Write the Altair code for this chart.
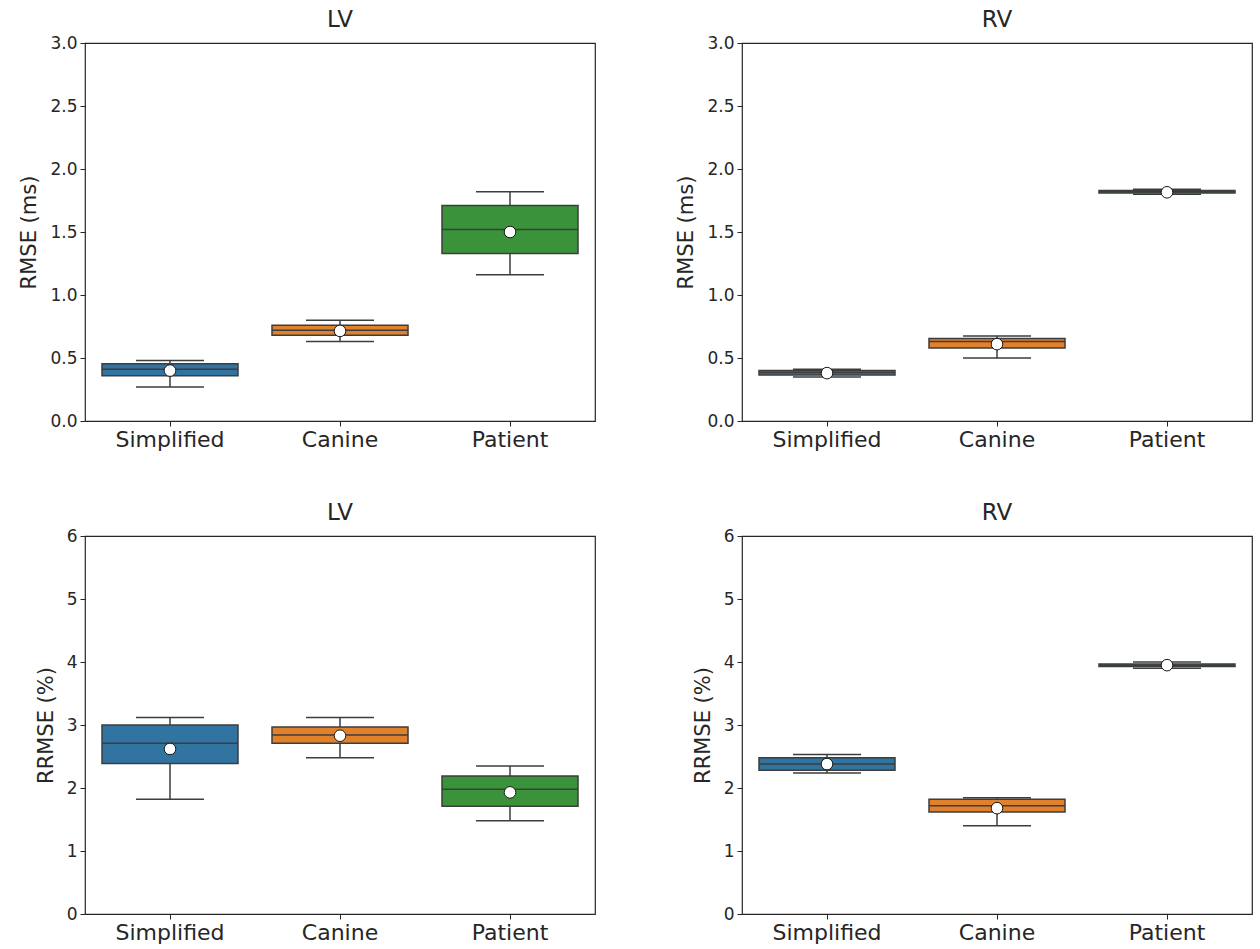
import altair as alt
import pandas as pd

categories = ["Simplified", "Canine", "Patient"]
box_colors = ["#3274a1", "#e1812c", "#3a923a"]
LINE = "#3d3d3d"
FONT = "DejaVu Sans"

# Box-plot summaries per group: whisker low, Q1, median, Q3, whisker high, mean
rmse_lv_low = [0.27, 0.63, 1.16]
rmse_lv_q1 = [0.36, 0.68, 1.33]
rmse_lv_med = [0.41, 0.72, 1.52]
rmse_lv_q3 = [0.455, 0.76, 1.71]
rmse_lv_high = [0.48, 0.80, 1.82]
rmse_lv_mean = [0.40, 0.715, 1.50]

rmse_rv_low = [0.35, 0.50, 1.80]
rmse_rv_q1 = [0.365, 0.58, 1.81]
rmse_rv_med = [0.385, 0.63, 1.82]
rmse_rv_q3 = [0.40, 0.655, 1.83]
rmse_rv_high = [0.41, 0.675, 1.84]
rmse_rv_mean = [0.38, 0.61, 1.815]

rrmse_lv_low = [1.82, 2.48, 1.48]
rrmse_lv_q1 = [2.39, 2.71, 1.71]
rrmse_lv_med = [2.71, 2.84, 1.98]
rrmse_lv_q3 = [3.00, 2.97, 2.19]
rrmse_lv_high = [3.12, 3.12, 2.35]
rrmse_lv_mean = [2.62, 2.83, 1.93]

rrmse_rv_low = [2.24, 1.40, 3.90]
rrmse_rv_q1 = [2.28, 1.62, 3.93]
rrmse_rv_med = [2.38, 1.72, 3.95]
rrmse_rv_q3 = [2.48, 1.82, 3.97]
rrmse_rv_high = [2.53, 1.845, 4.00]
rrmse_rv_mean = [2.38, 1.68, 3.95]

rmse_ticks = [0.0, 0.5, 1.0, 1.5, 2.0, 2.5, 3.0]
rrmse_ticks = [0, 1, 2, 3, 4, 5, 6]

PLOT_W = 510
PLOT_H = 378
BOX_W = 136


def panel(title, low, q1, med, q3, high, mean, y_title, ticks, fmt):
    df = pd.DataFrame({
        "group": categories,
        "low": low, "q1": q1, "med": med, "q3": q3, "high": high, "mean": mean,
    })
    y_scale = alt.Scale(domain=[ticks[0], ticks[-1]], nice=False, zero=False)
    y_axis = alt.Axis(
        title=y_title, values=ticks, format=fmt, grid=False, domain=False,
        tickSize=5, tickColor="#262626", tickWidth=1,
        labelFont=FONT, labelFontSize=17, labelColor="#262626", labelPadding=3,
        titleFont=FONT, titleFontSize=21, titleFontWeight="normal",
        titleColor="#262626", titlePadding=10,
    )

    def y(field):
        return alt.Y(f"{field}:Q", scale=y_scale, axis=y_axis, title=y_title)

    base = alt.Chart(df).encode(
        x=alt.X(
            "group:N", sort=categories,
            scale=alt.Scale(type="band", paddingInner=0, paddingOuter=0),
            axis=alt.Axis(
                title=None, labelAngle=0, domain=False, grid=False,
                tickSize=5, tickColor="#262626", tickWidth=1,
                labelFont=FONT, labelFontSize=22, labelColor="#262626",
                labelPadding=3,
            ),
        )
    )
    whisker = base.mark_rule(color=LINE, strokeWidth=1.5).encode(
        y=y("low"), y2="high:Q"
    )
    box = base.mark_bar(size=BOX_W, stroke=LINE, strokeWidth=1.5, opacity=1).encode(
        y=y("q1"), y2="q3:Q",
        color=alt.Color("group:N", scale=alt.Scale(domain=categories, range=box_colors), legend=None),
    )
    cap_low = base.mark_tick(size=BOX_W / 2, thickness=1.5, color=LINE, opacity=1).encode(y=y("low"))
    cap_high = base.mark_tick(size=BOX_W / 2, thickness=1.5, color=LINE, opacity=1).encode(y=y("high"))
    median = base.mark_tick(size=BOX_W, thickness=1.5, color=LINE, opacity=1).encode(y=y("med"))
    mean_pt = base.mark_point(
        shape="circle", filled=True, fill="white", stroke="#1a1a1a",
        strokeWidth=1, size=135, opacity=1,
    ).encode(y=y("mean"))

    return alt.layer(whisker, box, cap_low, cap_high, median, mean_pt).properties(
        width=PLOT_W, height=PLOT_H,
        title=alt.Title(
            title, font=FONT, fontSize=23, fontWeight="normal",
            color="#262626", offset=2, anchor="middle",
        ),
    )


top_left = panel("LV", rmse_lv_low, rmse_lv_q1, rmse_lv_med, rmse_lv_q3,
                 rmse_lv_high, rmse_lv_mean, "RMSE (ms)", rmse_ticks, ".1f")
top_right = panel("RV", rmse_rv_low, rmse_rv_q1, rmse_rv_med, rmse_rv_q3,
                  rmse_rv_high, rmse_rv_mean, "RMSE (ms)", rmse_ticks, ".1f")
bottom_left = panel("LV", rrmse_lv_low, rrmse_lv_q1, rrmse_lv_med, rrmse_lv_q3,
                    rrmse_lv_high, rrmse_lv_mean, "RRMSE (%)", rrmse_ticks, "d")
bottom_right = panel("RV", rrmse_rv_low, rrmse_rv_q1, rrmse_rv_med, rrmse_rv_q3,
                     rrmse_rv_high, rrmse_rv_mean, "RRMSE (%)", rrmse_ticks, "d")

chart = alt.concat(
    top_left, top_right, bottom_left, bottom_right,
    columns=2, bounds="flush", spacing={"row": 115, "column": 147},
).properties(
    padding={"left": 18, "top": 8, "right": 2, "bottom": 2},
    background="white",
).configure_view(stroke="#262626", strokeWidth=1.2)

chart.save("out.html", embed_options={"renderer": "svg", "actions": False})
